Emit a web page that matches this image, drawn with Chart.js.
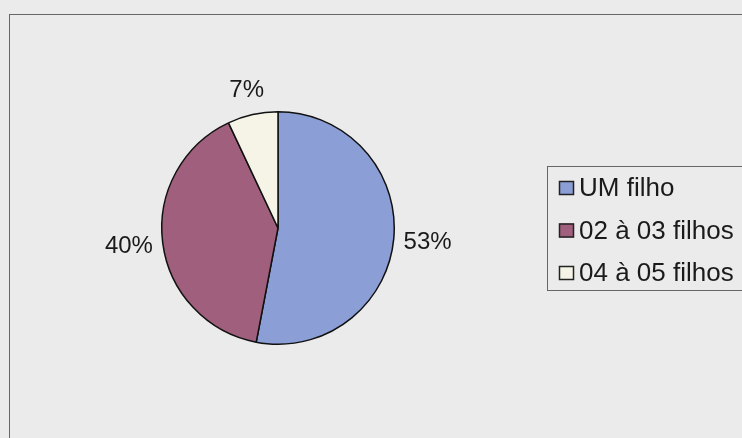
<!DOCTYPE html>
<html>
<head>
<meta charset="utf-8">
<script src="https://cdn.jsdelivr.net/npm/chart.js@4.4.1/dist/chart.umd.min.js"></script>
<style>
  html, body { margin: 0; padding: 0; background: #ebebeb; }
  #wrap { position: relative; width: 742px; height: 438px; overflow: hidden; }
  #frame {
    position: absolute; left: 9px; top: 14px; width: 800px; height: 500px;
    border-left: 1px solid #666; border-top: 1px solid #666;
  }
  canvas { position: absolute; left: 0; top: 0; }
</style>
</head>
<body>
<div id="wrap">
  <div id="frame"></div>
  <canvas id="pieChart" width="742" height="438"></canvas>
</div>
<script>
const categories = ["UM filho", "02 à 03 filhos", "04 à 05 filhos"];
const percentValues = [53, 40, 7];
const sliceColors = ["#8b9ed6", "#a05f7c", "#f5f4e6"];

const LABEL_FONT = "24px 'Liberation Sans', Arial, sans-serif";
const LEGEND_FONT = "26px 'Liberation Sans', Arial, sans-serif";

// percentage labels outside each slice
const outsideLabels = {
    id: "outsideLabels",
    afterDatasetsDraw(chart) {
        const ctx = chart.ctx;
        const meta = chart.getDatasetMeta(0);
        ctx.save();
        ctx.font = LABEL_FONT;
        ctx.fillStyle = "#1a1a1a";
        ctx.textAlign = "center";
        ctx.textBaseline = "middle";
        meta.data.forEach((arc, i) => {
            const mid = (arc.startAngle + arc.endAngle) / 2;
            const dx = Math.cos(mid), dy = Math.sin(mid);
            const r = arc.outerRadius + 10;
            const txt = percentValues[i] + "%";
            const w = ctx.measureText(txt).width;
            const h = 32;
            const x = arc.x + dx * r + dx * w / 2;
            const y = arc.y + dy * r + dy * h / 2;
            ctx.fillText(txt, x, y + 1);
        });
        ctx.restore();
    }
};

// boxed legend on the right
const boxedLegend = {
    id: "boxedLegend",
    afterDraw(chart) {
        const ctx = chart.ctx;
        const left = 547, top = 166, rowGap = 42.5;
        ctx.save();
        ctx.strokeStyle = "#666";
        ctx.lineWidth = 1;
        ctx.strokeRect(left + 0.5, top + 0.5, 300, 124);
        ctx.font = LEGEND_FONT;
        ctx.textBaseline = "middle";
        chart.data.labels.forEach((lab, i) => {
            const cy = top + 22 + i * rowGap;
            ctx.fillStyle = chart.data.datasets[0].backgroundColor[i];
            ctx.fillRect(559, cy - 7, 15, 14);
            ctx.strokeStyle = "#222";
            ctx.lineWidth = 1.5;
            ctx.strokeRect(559.5, cy - 6.5, 14, 13);
            ctx.fillStyle = "#1a1a1a";
            ctx.fillText(lab, 579, cy + 1);
        });
        ctx.restore();
    }
};

new Chart(document.getElementById("pieChart").getContext("2d"), {
    type: "pie",
    data: {
        labels: categories,
        datasets: [{
            data: percentValues,
            backgroundColor: sliceColors,
            borderColor: "#111",
            borderWidth: 1.5
        }]
    },
    options: {
        responsive: false,
        animation: false,
        layout: { padding: { left: 160, right: 742 - 396, top: 111, bottom: 438 - 345 } },
        plugins: {
            legend: { display: false },
            tooltip: { enabled: false }
        }
    },
    plugins: [outsideLabels, boxedLegend]
});
</script>
</body>
</html>
